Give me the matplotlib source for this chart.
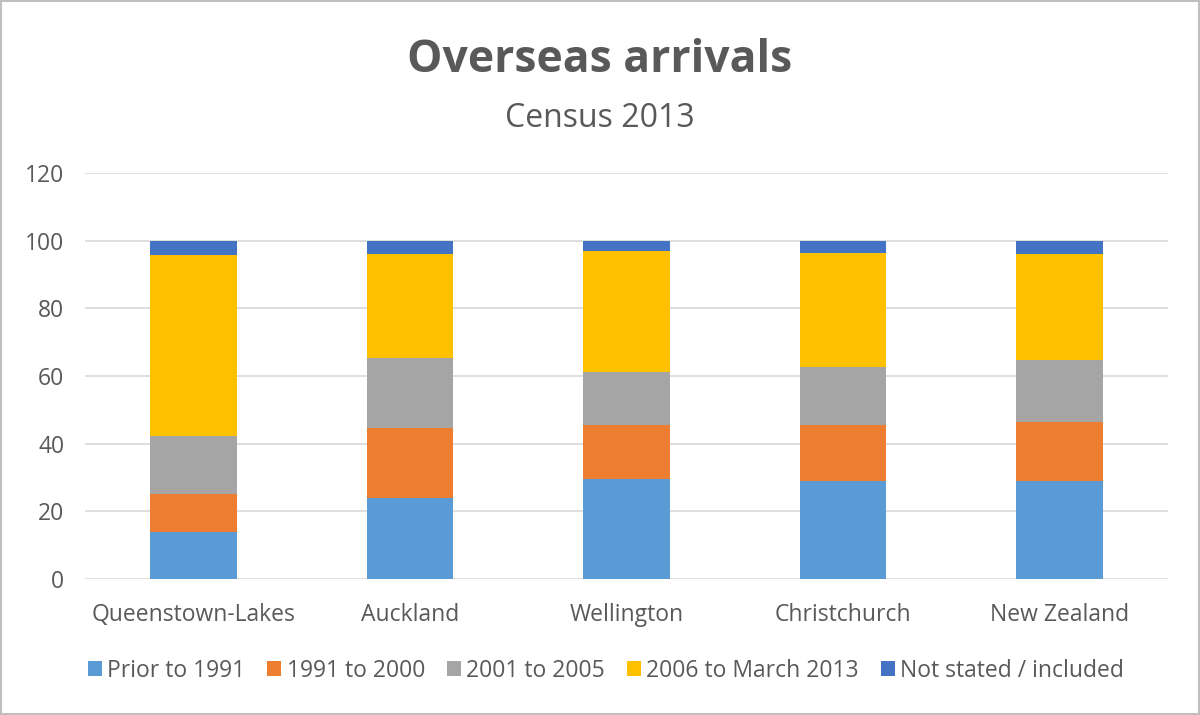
import matplotlib.pyplot as plt
import numpy as np

plt.rcParams['font.family'] = ['Open Sans', 'DejaVu Sans']

# 数据
regions = ['Queenstown-Lakes', 'Auckland', 'Wellington', 'Christchurch', 'New Zealand']
series_names = ['Prior to 1991', '1991 to 2000', '2001 to 2005',
                '2006 to March 2013', 'Not stated / included']
prior_1991 = [13.8, 24.1, 29.6, 29.1, 29.1]
y1991_2000 = [11.4, 20.7, 16.0, 16.5, 17.3]
y2001_2005 = [17.0, 20.4, 15.5, 17.2, 18.4]
y2006_2013 = [53.6, 31.0, 35.9, 33.7, 31.4]
not_stated = [4.2, 3.8, 3.0, 3.5, 3.8]
y_ticks = [0, 20, 40, 60, 80, 100, 120]

colors = ['#5B9BD5', '#ED7D31', '#A5A5A5', '#FFC000', '#4472C4']
text_color = '#595959'

fig = plt.figure(figsize=(12, 7.15), dpi=100)
ax = fig.add_axes([0.071, 0.19, 0.902, 0.568])

x = np.arange(len(regions))
bottom = np.zeros(len(regions))
for vals, name, c in zip([prior_1991, y1991_2000, y2001_2005, y2006_2013, not_stated],
                         series_names, colors):
    ax.bar(x, vals, width=0.4, bottom=bottom, color=c, label=name, zorder=3)
    bottom += np.array(vals)

ax.set_xlim(-0.5, len(regions) - 0.5)
ax.set_ylim(0, 120)
ax.set_yticks(y_ticks)
ax.set_xticks(x)
ax.set_xticklabels(regions, fontsize=16.5, color=text_color)
ax.tick_params(axis='y', labelsize=16.5, labelcolor=text_color, length=0, pad=15)
ax.tick_params(axis='x', length=0, pad=17)
ax.grid(axis='y', color='#D9D9D9', linewidth=1.2, zorder=0)
for s in ax.spines.values():
    s.set_visible(False)

fig.text(0.5, 0.916, 'Overseas arrivals', ha='center', va='center',
         fontsize=32, fontweight='bold', color=text_color)
fig.text(0.5, 0.834, 'Census 2013', ha='center', va='center',
         fontsize=23, color=text_color)

fig.legend(loc='center', bbox_to_anchor=(0.505, 0.062), ncol=5, frameon=False,
           fontsize=16.5, handlelength=0.6, handleheight=0.6, handletextpad=0.25,
           columnspacing=0.95, labelcolor=text_color)

# 外框
fig.patches.append(plt.Rectangle((0.001, 0.001), 0.998, 0.998, transform=fig.transFigure,
                                 fill=False, edgecolor='#BFBFBF', linewidth=1.5))

fig.savefig('out.png', dpi=100)
